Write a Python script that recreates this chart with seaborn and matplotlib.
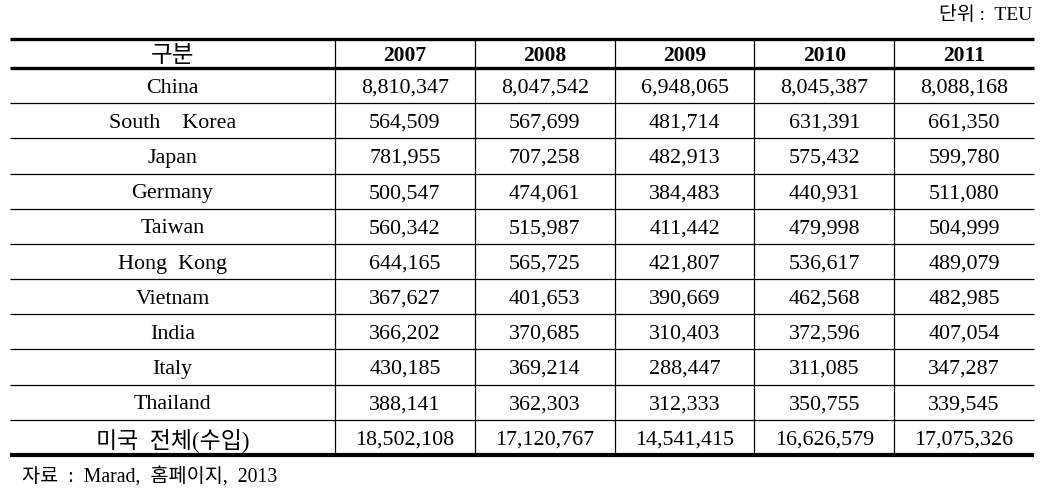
import numpy as np
import pandas as pd
import seaborn as sns
import matplotlib
matplotlib.use("Agg")
import matplotlib.pyplot as plt
from matplotlib.colors import ListedColormap

years = ["2007", "2008", "2009", "2010", "2011"]
countries = ["China", "South    Korea", "Japan", "Germany", "Taiwan", "Hong  Kong",
             "Vietnam", "India", "Italy", "Thailand", "미국  전체(수입)"]
v2007 = [8810347, 564509, 781955, 500547, 560342, 644165, 367627, 366202, 430185, 388141, 18502108]
v2008 = [8047542, 567699, 707258, 474061, 515987, 565725, 401653, 370685, 369214, 362303, 17120767]
v2009 = [6948065, 481714, 482913, 384483, 411442, 421807, 390669, 310403, 288447, 312333, 14541415]
v2010 = [8045387, 631391, 575432, 440931, 479998, 536617, 462568, 372596, 311085, 350755, 16626579]
v2011 = [8088168, 661350, 599780, 511080, 504999, 489079, 482985, 407054, 347287, 339545, 17075326]
header_label = "구분"
unit_text = "단위 :  TEU"
source_text = "자료  :  Marad,  홈페이지,  2013"

df = pd.DataFrame({"2007": v2007, "2008": v2008, "2009": v2009, "2010": v2010, "2011": v2011},
                  index=countries)
annot = df.map(lambda v: f"{v:,}").values

W, H = 1048, 491
fig = plt.figure(figsize=(W / 100, H / 100), dpi=100)
fig.patch.set_facecolor("white")

left_px, right_px, top_px, bot_px = 10, 1034, 39, 455
ax = fig.add_axes([left_px / W, 1 - bot_px / H, (right_px - left_px) / W, (bot_px - top_px) / H])

serif = ["Liberation Serif", "Noto Sans CJK KR"]
sns.heatmap(df, ax=ax, cmap=ListedColormap(["white"]), cbar=False, annot=annot, fmt="",
            linewidths=0, annot_kws={"family": serif, "size": 15.8, "color": "black",
                                     "va": "center_baseline"})

col_w = (right_px - 335) / 5
row_h = (bot_px - 68) / 11
lab_w = (335 - left_px) / col_w
hdr_h = (68 - top_px) / row_h

ax.set_xlim(-lab_w, 5)
ax.set_ylim(11, -hdr_h)
ax.set_xticks([])
ax.set_yticks([])
ax.set_xlabel("")
ax.set_ylabel("")
for s in ax.spines.values():
    s.set_visible(False)

# header texts
ax.text(-lab_w / 2, -hdr_h / 2, header_label, ha="center", va="center_baseline",
        family=["Noto Sans CJK KR"], size=17)
for j, y in enumerate(years):
    ax.text(j + 0.5, -hdr_h / 2, y, ha="center", va="center_baseline",
            family=serif, size=15.5, fontweight="bold")
# row labels
for i, c in enumerate(countries):
    if i == len(countries) - 1:
        ax.text(-lab_w / 2, i + 0.5, c, ha="center", va="center_baseline",
                family=["Liberation Serif", "Noto Sans CJK KR"], size=16.5)
    else:
        ax.text(-lab_w / 2, i + 0.5, c, ha="center", va="center_baseline", family=serif, size=15.8)

# horizontal lines
ax.hlines(-hdr_h, -lab_w, 5, colors="black", lw=2.4, clip_on=False)
ax.hlines(0, -lab_w, 5, colors="black", lw=2.4, clip_on=False)
ax.hlines(np.arange(1, 11), -lab_w, 5, colors="black", lw=0.9, clip_on=False)
ax.hlines(11, -lab_w, 5, colors="black", lw=3.0, clip_on=False)
# vertical lines
ax.vlines(np.arange(0, 5), -hdr_h, 11, colors="black", lw=0.9, clip_on=False)

fig.text(1032 / W, 1 - 13 / H, unit_text, ha="right", va="center_baseline",
         family=["Liberation Serif", "Noto Sans CJK KR"], size=14)
fig.text(22 / W, 1 - 475 / H, source_text, ha="left", va="center_baseline",
         family=["Liberation Serif", "Noto Sans CJK KR"], size=14.2)

fig.savefig("out.png", dpi=100, facecolor="white")
